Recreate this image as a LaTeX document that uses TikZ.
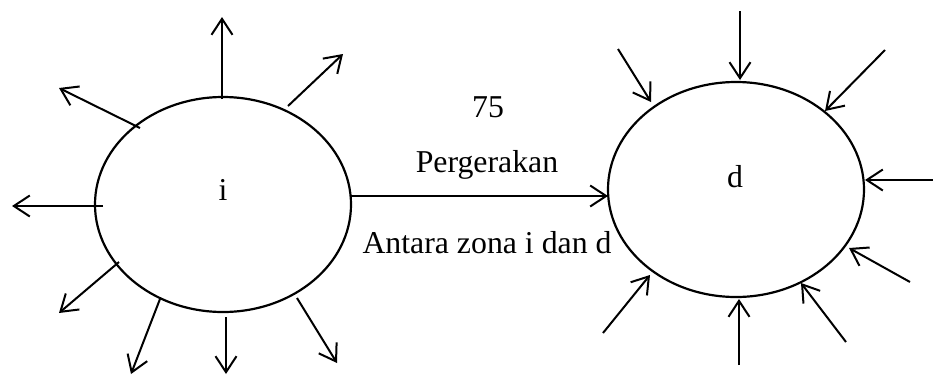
\documentclass[tikz,border=0pt]{standalone}
\usepackage{fontspec}
\setmainfont{Liberation Serif}
\usetikzlibrary{shapes.geometric,arrows.meta}
\begin{document}
\begin{tikzpicture}[x=0.5pt,y=-0.5pt,
  zone/.style={draw,ellipse,line width=1.1pt,inner sep=0pt,minimum width=128pt,minimum height=107.5pt},
  flow/.style={line width=1pt,-{Straight Barb[length=8pt,width=10.5pt,line width=1pt]}},
  txt/.style={anchor=base,inner sep=0pt,font=\fontsize{15.9}{19}\selectfont}]
\useasboundingbox (0,0) rectangle (933,376);

% zones
\node[zone] (zi) at (223,204.5) {};
\node[zone] (zd) at (736,189.5) {};
\node[txt] (li) at (223,200) {i};
\node[txt] (ld) at (735,187) {d};

% movement between the zones
\coordinate (m1) at (351,196);
\coordinate (m2) at (608,196);
\draw[flow] (m1) -- (m2);
\node[txt] (n75) at (488,117) {75};
\node[txt] (nper) at (487,172) {Pergerakan};
\node[txt] (nant) at (487,253) {Antara zona i dan d};

% trips leaving zone i
\foreach \n/\ax/\ay/\bx/\by in {
  a/222/99/222/17, b/288/106/343/54, c/140/128/59/88, e/103/206/12/206,
  f/119/262/59/313, g/160/299/131/374, h/226/317/226/374, k/297/298/337/363}{
  \coordinate (o\n s) at (\ax,\ay);
  \coordinate (o\n e) at (\bx,\by);
  \draw[flow] (o\n s) -- (o\n e);
}

% trips entering zone d
\foreach \n/\ax/\ay/\bx/\by in {
  a/740/11/740/80, b/618/49/651/102, c/885/50/825/111, e/933/180/865/180,
  f/910/282/849/248, g/846/342/801/283, h/739/365/739/299, k/603/333/650/275}{
  \coordinate (d\n s) at (\ax,\ay);
  \coordinate (d\n e) at (\bx,\by);
  \draw[flow] (d\n s) -- (d\n e);
}
\end{tikzpicture}
\end{document}
